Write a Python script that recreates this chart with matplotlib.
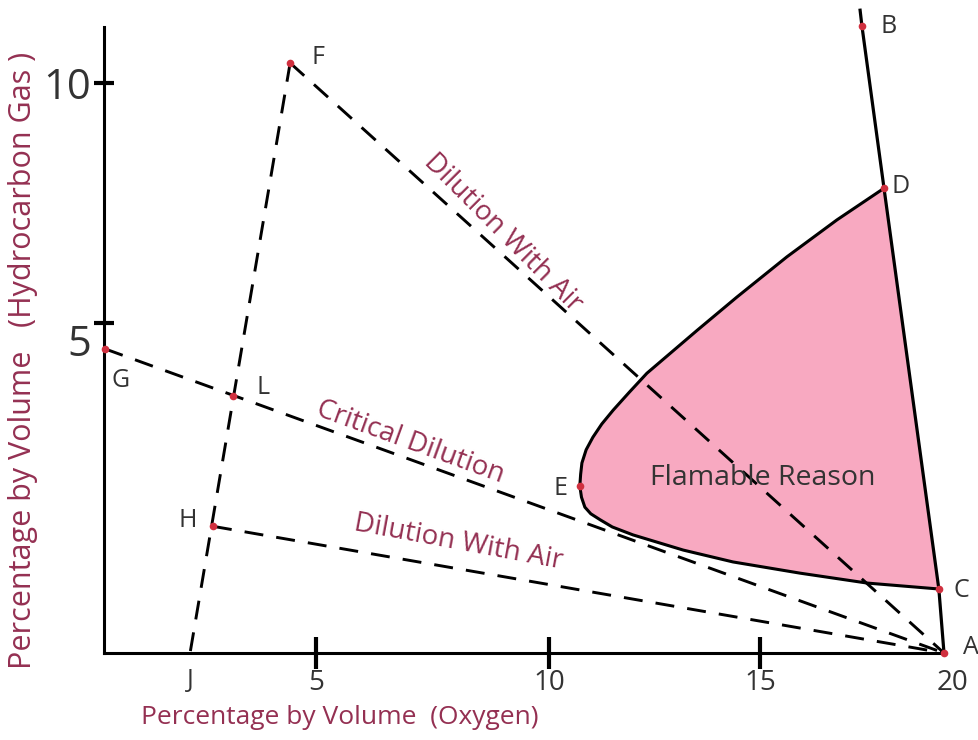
import numpy as np
import matplotlib
matplotlib.use("Agg")
import matplotlib.pyplot as plt
from matplotlib.transforms import ScaledTranslation

plt.rcParams['font.family'] = ['Open Sans', 'DejaVu Sans']

# ---------------- data ----------------
ox_ticks = [5, 10, 15, 20]
ox_tick_labels = ['5', '10', '15', '20']
hc_ticks = [5, 10]
hc_tick_labels = ['5', '10']

pt_names = ['A', 'B', 'C', 'D', 'E', 'F', 'G', 'H', 'L', 'J']
pt_o2 = [20.0, 17.77, 19.86, 18.37, 10.73, 4.39, 0.02, 2.57, 3.04, 2.03]
pt_hc = [0.0, 11.19, 0.97, 7.81, 2.53, 10.42, 4.61, 1.92, 3.89, 0.0]
pt_dot = [True, True, True, True, True, True, True, True, True, False]

# solid boundary line A-C-D-B (continues slightly above B)
bound_o2 = [20.0, 19.86, 18.37, 17.77, 17.72]
bound_hc = [0.0, 0.97, 7.81, 11.19, 11.52]

# flammable region boundary: C -> lower limit -> E -> upper limit -> D
flam_lower_o2 = [19.86, 17.91, 16.09, 14.36, 13.18, 11.99, 11.50, 11.21, 10.99, 10.85, 10.77, 10.73]
flam_lower_hc = [0.97, 1.06, 1.21, 1.38, 1.56, 1.79, 1.91, 2.02, 2.11, 2.21, 2.36, 2.53]
flam_upper_o2 = [10.73, 10.75, 10.78, 10.88, 11.04, 11.25, 11.52, 11.90, 12.32, 13.51, 14.45, 15.73, 17.09, 18.37]
flam_upper_hc = [2.53, 2.71, 2.88, 3.08, 3.27, 3.47, 3.68, 3.95, 4.24, 4.89, 5.54, 6.38, 7.15, 7.81]

# dashed dilution lines (start, end point names)
dash_lines = [('F', 'A'), ('G', 'A'), ('H', 'A'), ('F', 'J')]

# ---------------- hand-drawn (piecewise) axis scales ----------------
x_anchor_val = [0, 5, 10, 15, 20]
x_anchor_pos = [0, 212, 445, 656, 840]
y_anchor_val = [0, 5, 10]
y_anchor_pos = [0, 330, 570]


def pwl(v, xs, ys):
    v = np.array(v, dtype=float)
    scalar = v.ndim == 0
    v = np.atleast_1d(v)
    out = np.interp(v, xs, ys)
    lo = v < xs[0]
    hi = v > xs[-1]
    out[lo] = ys[0] + (v[lo] - xs[0]) * (ys[1] - ys[0]) / (xs[1] - xs[0])
    out[hi] = ys[-1] + (v[hi] - xs[-1]) * (ys[-1] - ys[-2]) / (xs[-1] - xs[-2])
    return out[0] if scalar else out


MAROON = '#943052'
PINK = '#F8A9C1'
RED = '#D0303F'
DARK = '#333333'

fig = plt.figure(figsize=(9.79, 7.40), dpi=100)
ax = fig.add_axes([104 / 979, 87 / 740, 840 / 979, 626 / 740])
ax.set_xscale('function', functions=(lambda v: pwl(v, x_anchor_val, x_anchor_pos),
                                     lambda p: pwl(p, x_anchor_pos, x_anchor_val)))
ax.set_yscale('function', functions=(lambda v: pwl(v, y_anchor_val, y_anchor_pos),
                                     lambda p: pwl(p, y_anchor_pos, y_anchor_val)))
ax.set_xlim(0, 20)
ax.set_ylim(0, 11.17)

P = {n: (x, y) for n, x, y in zip(pt_names, pt_o2, pt_hc)}

# flammable region
poly_x = flam_lower_o2 + flam_upper_o2[1:]
poly_y = flam_lower_hc + flam_upper_hc[1:]
ax.fill(poly_x, poly_y, color=PINK, lw=0, zorder=1)
ax.plot(poly_x, poly_y, color='black', lw=2.2, zorder=3, solid_joinstyle='round')

# boundary line
ax.plot(bound_o2, bound_hc, color='black', lw=2.3, zorder=3, clip_on=False)

# dashed lines
for a, b in dash_lines:
    ax.plot([P[a][0], P[b][0]], [P[a][1], P[b][1]], color='black', lw=2.1,
            dashes=(6.5, 4.5), zorder=2, clip_on=False)

# points
for n, x, y, d in zip(pt_names, pt_o2, pt_hc, pt_dot):
    if d:
        ax.plot(x, y, 'o', color=RED, ms=5.5, mec='none', zorder=5, clip_on=False)

# point labels (offsets in points)
label_off = {'A': (19, 4), 'B': (19, 0), 'C': (16, -1), 'D': (12, 1), 'E': (-14, -2),
             'F': (20, 4), 'G': (11, -23), 'H': (-18, 4), 'L': (22, 6), 'J': (0, -20)}
for n in pt_names:
    ax.annotate(n, P[n], xytext=label_off[n], textcoords='offset points',
                ha='center', va='center', fontsize=18, color=DARK,
                annotation_clip=False, zorder=6)

# line descriptions
ax.text(pwl(503 - 104, x_anchor_pos, x_anchor_val), pwl(653 - 233, y_anchor_pos, y_anchor_val),
        'Dilution With Air', rotation=-45, rotation_mode='anchor', ha='center', va='center',
        fontsize=20, color=MAROON)
ax.text(pwl(410 - 104, x_anchor_pos, x_anchor_val), pwl(653 - 442, y_anchor_pos, y_anchor_val),
        'Critical Dilution', rotation=-20, rotation_mode='anchor', ha='center', va='center',
        fontsize=20, color=MAROON)
ax.text(pwl(458 - 104, x_anchor_pos, x_anchor_val), pwl(653 - 542, y_anchor_pos, y_anchor_val),
        'Dilution With Air', rotation=-10.5, rotation_mode='anchor', ha='center', va='center',
        fontsize=20, color=MAROON)
ax.text(pwl(763 - 104, x_anchor_pos, x_anchor_val), pwl(653 - 478, y_anchor_pos, y_anchor_val),
        'Flamable Reason', ha='center', va='center', fontsize=20.5, color=DARK, zorder=6)

# axes styling
for s in ['top', 'right']:
    ax.spines[s].set_visible(False)
for s in ['left', 'bottom']:
    ax.spines[s].set_linewidth(2.2)

ax.set_xticks(ox_ticks, ox_tick_labels)
ax.set_yticks(hc_ticks, hc_tick_labels)
ax.minorticks_off()
ax.tick_params(axis='x', direction='inout', length=23, width=3, labelsize=20,
               labelcolor=DARK, pad=0)
ax.tick_params(axis='y', direction='inout', length=15, width=3, labelsize=30,
               labelcolor=DARK, pad=2)
ax.xaxis.get_major_ticks()[-1].tick1line.set_visible(False)

# hand-drawn offsets of tick labels
ylabs = ax.get_yticklabels()
ylabs[0].set_transform(ylabs[0].get_transform() + ScaledTranslation(0, -0.17, fig.dpi_scale_trans))
xlabs = ax.get_xticklabels()
xlabs[-1].set_transform(xlabs[-1].get_transform() + ScaledTranslation(0.09, 0, fig.dpi_scale_trans))

ax.set_xlabel('Percentage by Volume  (Oxygen)', fontsize=19, color=MAROON)
ax.xaxis.set_label_coords((340 - 104) / 840, -(705 - 653) / 626)
ax.set_ylabel('Percentage by Volume   (Hydrocarbon Gas )', fontsize=22, color=MAROON)
ax.yaxis.set_label_coords((38 - 104) / 840, (653 - 360) / 626)

fig.savefig('out.png', dpi=100)
